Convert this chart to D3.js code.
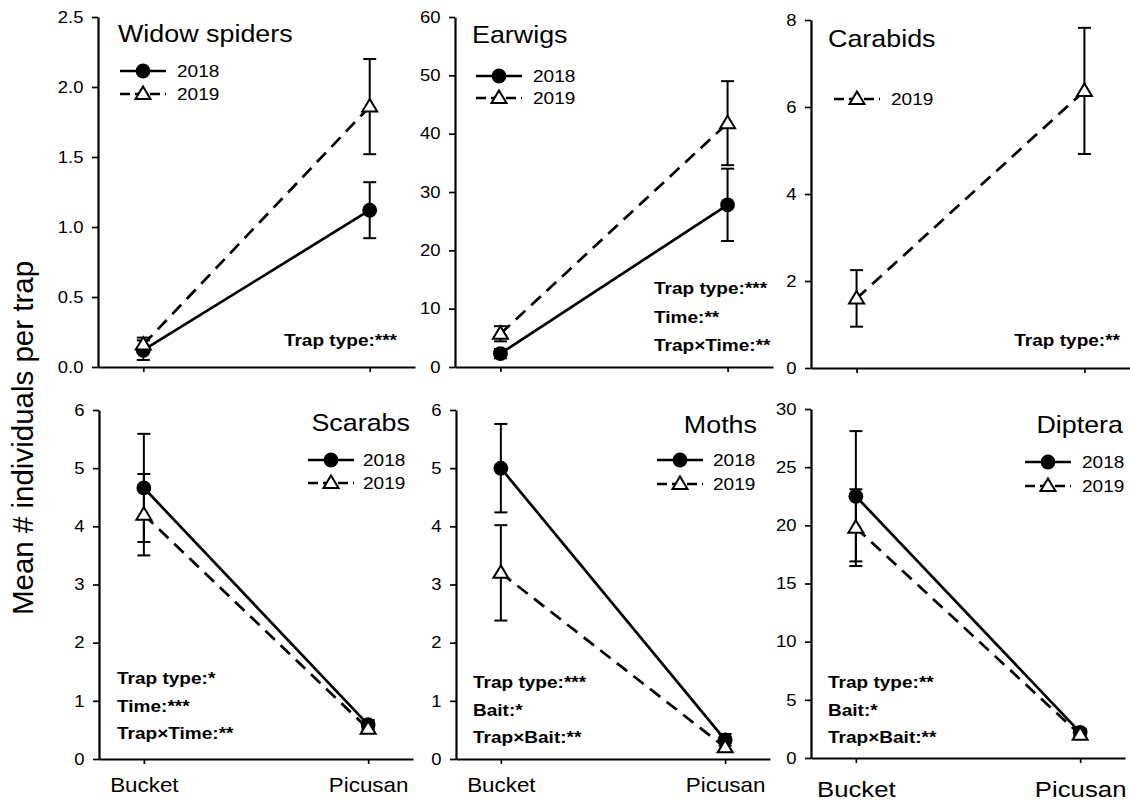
<!DOCTYPE html>
<html>
<head>
<meta charset="utf-8">
<script src="https://cdn.jsdelivr.net/npm/d3@7"></script>
<style>
  html, body { margin: 0; padding: 0; background: #fff; }
  svg { display: block; font-family: "Liberation Sans", Arial, sans-serif; }
</style>
</head>
<body>
<svg id="chart" width="1130" height="803"></svg>
<script>
// ---- data ----
const trapTypes = ["Bucket", "Picusan"];
const years = ["2018", "2019"];
const taxa = ["Widow spiders", "Earwigs", "Carabids", "Scarabs", "Moths", "Diptera"];

// mean individuals per trap [Bucket, Picusan]; null = not sampled that year
const mean2018 = [[0.12, 1.12], [2.3, 27.8], null, [4.66, 0.59], [5.0, 0.33], [22.5, 2.2]];
const se2018   = [[0.07, 0.20], [0.8, 6.2],  null, [0.93, 0.08], [0.76, 0.10], [5.6, 0.3]];
const mean2019 = [[0.16, 1.86], [5.7, 41.8], [1.6, 6.37], [4.2, 0.52], [3.2, 0.2], [19.8, 2.0]];
const se2019   = [[0.05, 0.34], [1.3, 7.2],  [0.65, 1.45], [0.7, 0.06], [0.82, 0.08], [3.3, 0.25]];

// y-axis tick labels per panel
const yTicks = [
  ["0.0", "0.5", "1.0", "1.5", "2.0", "2.5"],
  ["0", "10", "20", "30", "40", "50", "60"],
  ["0", "2", "4", "6", "8"],
  ["0", "1", "2", "3", "4", "5", "6"],
  ["0", "1", "2", "3", "4", "5", "6"],
  ["0", "5", "10", "15", "20", "25", "30"]
];

// significance notes per panel
const stats = [
  ["Trap type:***"],
  ["Trap type:***", "Time:**", "Trap\u00d7Time:**"],
  ["Trap type:**"],
  ["Trap type:*", "Time:***", "Trap\u00d7Time:**"],
  ["Trap type:***", "Bait:*", "Trap\u00d7Bait:**"],
  ["Trap type:**", "Bait:*", "Trap\u00d7Bait:**"]
];

// ---- layout ----
const SX = 1.12; // horizontal text stretch
const layout = [
  { x0: 98,  x1: 415,  y0: 17,  y1: 367, xLabels: false,
    title: { x: 118, y: 42, anchor: "start" },
    legend: { cx: 143, rows: [71, 94], tx: 177 },
    note: { x: 397, y: 346, anchor: "end", gap: 28 } },
  { x0: 455, x1: 773,  y0: 17,  y1: 367, xLabels: false,
    title: { x: 472, y: 43, anchor: "start" },
    legend: { cx: 499, rows: [76, 98], tx: 533 },
    note: { x: 654, y: 294, anchor: "start", gap: 28.5 } },
  { x0: 811, x1: 1130, y0: 20,  y1: 368, xLabels: false,
    title: { x: 828, y: 47, anchor: "start" },
    legend: { cx: 857, rows: [null, 99], tx: 891 },
    note: { x: 1120, y: 346, anchor: "end", gap: 28 } },
  { x0: 99,  x1: 413,  y0: 410, y1: 759, xLabels: true, xFont: 20, xPad: 14,
    title: { x: 410, y: 431, anchor: "end" },
    legend: { cx: 331, rows: [460, 483], tx: 363 },
    note: { x: 117, y: 684, anchor: "start", gap: 27.5 } },
  { x0: 456, x1: 770,  y0: 410, y1: 759, xLabels: true, xFont: 20, xPad: 14,
    title: { x: 757, y: 433, anchor: "end" },
    legend: { cx: 680, rows: [460, 484], tx: 713 },
    note: { x: 473, y: 688, anchor: "start", gap: 27.5 } },
  { x0: 811, x1: 1125, y0: 409, y1: 758, xLabels: true, xFont: 23, xPad: 18,
    title: { x: 1123, y: 433, anchor: "end" },
    legend: { cx: 1048, rows: [462, 486], tx: 1082 },
    note: { x: 828, y: 688, anchor: "start", gap: 27.5 } }
];

const svg = d3.select("#chart");

function stretchedText(parent, x, y, str, size, anchor, weight) {
  return parent.append("text")
    .attr("transform", `translate(${x},${y}) scale(${SX},1)`)
    .attr("text-anchor", anchor || "start")
    .attr("font-size", size)
    .attr("font-weight", weight || "normal")
    .attr("fill", "#000")
    .text(str);
}

const triPath = "M0,-7.5L7.5,5L-7.5,5Z";

function drawMarker(g, year, cx, cy) {
  if (year === "2018") {
    g.append("circle").attr("cx", cx).attr("cy", cy).attr("r", 7.4).attr("fill", "#000");
  } else {
    g.append("path").attr("d", triPath)
      .attr("transform", `translate(${cx},${cy})`)
      .attr("fill", "#fff").attr("stroke", "#000").attr("stroke-width", 2)
      .attr("stroke-linejoin", "miter");
  }
}

const lineStyle = { "2018": null, "2019": "13,8" };

taxa.forEach((name, i) => {
  const L = layout[i];
  const g = svg.append("g");

  const yMax = +yTicks[i][yTicks[i].length - 1];
  const y = d3.scaleLinear().domain([0, yMax]).range([L.y1, L.y0]);
  const x = d3.scalePoint().domain(trapTypes).range([L.x0, L.x1]).padding(0.2);

  // y axis
  const yAxis = g.append("g").attr("transform", `translate(${L.x0},0)`)
    .call(d3.axisLeft(y)
      .tickValues(yTicks[i].map(Number))
      .tickFormat((d, k) => yTicks[i][k])
      .tickSize(6).tickSizeOuter(0).tickPadding(7));
  yAxis.select(".domain").attr("stroke-width", 2.2);
  yAxis.selectAll(".tick line").attr("stroke-width", 1.7);
  yAxis.selectAll(".tick text")
    .attr("font-size", 16.5).attr("font-family", "Liberation Sans, Arial, sans-serif")
    .attr("fill", "#000").attr("transform", `scale(${SX},1)`);

  // x axis
  const xAxis = g.append("g").attr("transform", `translate(0,${L.y1})`)
    .call(d3.axisBottom(x)
      .tickSize(5).tickSizeOuter(0).tickPadding(L.xPad || 3)
      .tickFormat(L.xLabels ? (d => d) : () => ""));
  xAxis.select(".domain").attr("stroke-width", 2.2);
  xAxis.selectAll(".tick line").attr("stroke-width", 1.7);
  xAxis.selectAll(".tick text")
    .attr("font-size", L.xFont || 16).attr("font-family", "Liberation Sans, Arial, sans-serif")
    .attr("fill", "#000").attr("transform", `scale(${SX},1)`);

  // series
  const series = [
    { year: "2018", mean: mean2018[i], se: se2018[i] },
    { year: "2019", mean: mean2019[i], se: se2019[i] }
  ].filter(s => s.mean);

  const line = d3.line().x((d, k) => x(trapTypes[k])).y(d => y(d));
  series.forEach(s => {
    g.append("path").datum(s.mean).attr("d", line)
      .attr("fill", "none").attr("stroke", "#000").attr("stroke-width", 2.7)
      .attr("stroke-dasharray", lineStyle[s.year]);
  });

  // error bars
  series.forEach(s => {
    s.mean.forEach((m, k) => {
      const cx = x(trapTypes[k]);
      const lo = y(m - s.se[k]), hi = y(m + s.se[k]);
      g.append("line").attr("x1", cx).attr("x2", cx).attr("y1", lo).attr("y2", hi)
        .attr("stroke", "#000").attr("stroke-width", 2);
      [lo, hi].forEach(v => g.append("line")
        .attr("x1", cx - 6.5).attr("x2", cx + 6.5).attr("y1", v).attr("y2", v)
        .attr("stroke", "#000").attr("stroke-width", 2));
    });
  });

  // markers
  series.forEach(s => {
    s.mean.forEach((m, k) => drawMarker(g, s.year, x(trapTypes[k]), y(m)));
  });

  // title
  stretchedText(g, L.title.x, L.title.y, name, 24, L.title.anchor);

  // legend
  years.forEach((yr, k) => {
    const ry = L.legend.rows[k];
    if (ry == null) return;
    g.append("line").attr("x1", L.legend.cx - 23).attr("x2", L.legend.cx + 23)
      .attr("y1", ry).attr("y2", ry)
      .attr("stroke", "#000").attr("stroke-width", 2.7)
      .attr("stroke-dasharray", yr === "2019" ? "10,5" : null);
    drawMarker(g, yr, L.legend.cx, ry);
    stretchedText(g, L.legend.tx, ry + 6, yr, 17, "start");
  });

  // significance notes
  stats[i].forEach((t, k) => {
    stretchedText(g, L.note.x, L.note.y + k * L.note.gap, t, 17, L.note.anchor, "bold");
  });
});

// shared y-axis title
svg.append("text")
  .attr("transform", "translate(33,438) rotate(-90)")
  .attr("text-anchor", "middle")
  .attr("font-size", 29.5)
  .attr("fill", "#000")
  .text("Mean # individuals per trap");
</script>
</body>
</html>
